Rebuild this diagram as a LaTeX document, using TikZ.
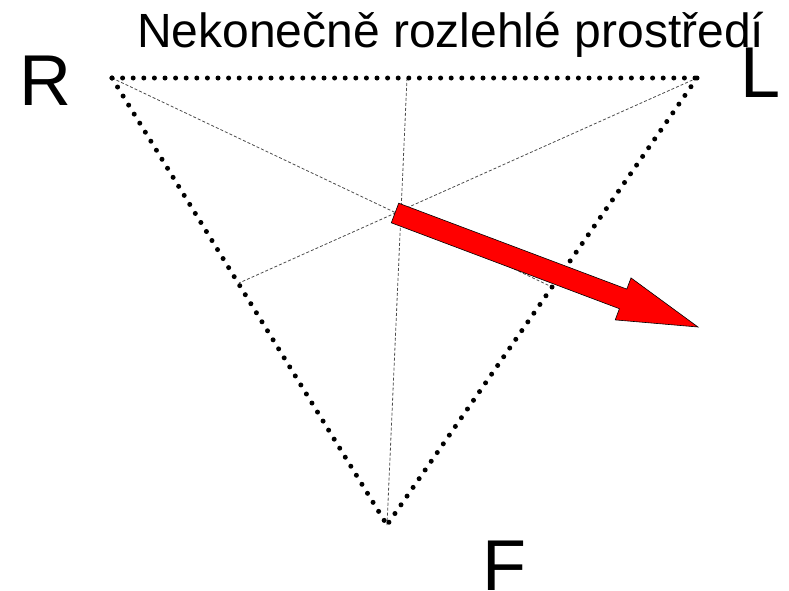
\documentclass[tikz,border=0pt]{standalone}
\usepackage{fontspec}
\setmainfont{Liberation Sans}
\begin{document}
\begin{tikzpicture}[x=1pt,y=-1pt,
  side/.style={line width=5pt,line cap=round,dash pattern=on 0pt off 10.6pt},
  median/.style={line width=0.8pt,gray!60!black,dash pattern=on 3pt off 2pt},
  biglabel/.style={inner sep=0pt,anchor=base west,font=\fontsize{72}{80}\selectfont},
  title/.style={inner sep=0pt,anchor=base west,font=\fontsize{48}{54}\selectfont}]
\useasboundingbox (0,0) rectangle (789,590);
\coordinate (R) at (112,78);
\coordinate (L) at (697,78);
\coordinate (F) at (387,525);
\coordinate (mRL) at (407,78);
\coordinate (mLF) at (552,287);
\coordinate (mRF) at (239,283);
% medians
\draw[median] (R) -- (mLF);
\draw[median] (L) -- (mRF);
\draw[median] (mRL) -- (F);
% sides
\draw[side] (R) -- (L);
\draw[side] (R) -- (F);
\draw[side] (L) -- (F);
% arrow
\draw[fill=red,line width=0.6pt,line join=miter]
  (398.7,203.2) -- (626.8,289.1) -- (631.0,277.9) -- (698,327)
  -- (615.2,319.9) -- (619.4,308.7) -- (391.3,222.8) -- cycle;
% labels
\node[title] (t) at (137,47) {Nekonečně rozlehlé prostředí};
\node[biglabel] (lR) at (19,105) {R};
\node[biglabel] (lL) at (740,97) {L};
\node[biglabel] (lF) at (482,590) {F};
\end{tikzpicture}
\end{document}
